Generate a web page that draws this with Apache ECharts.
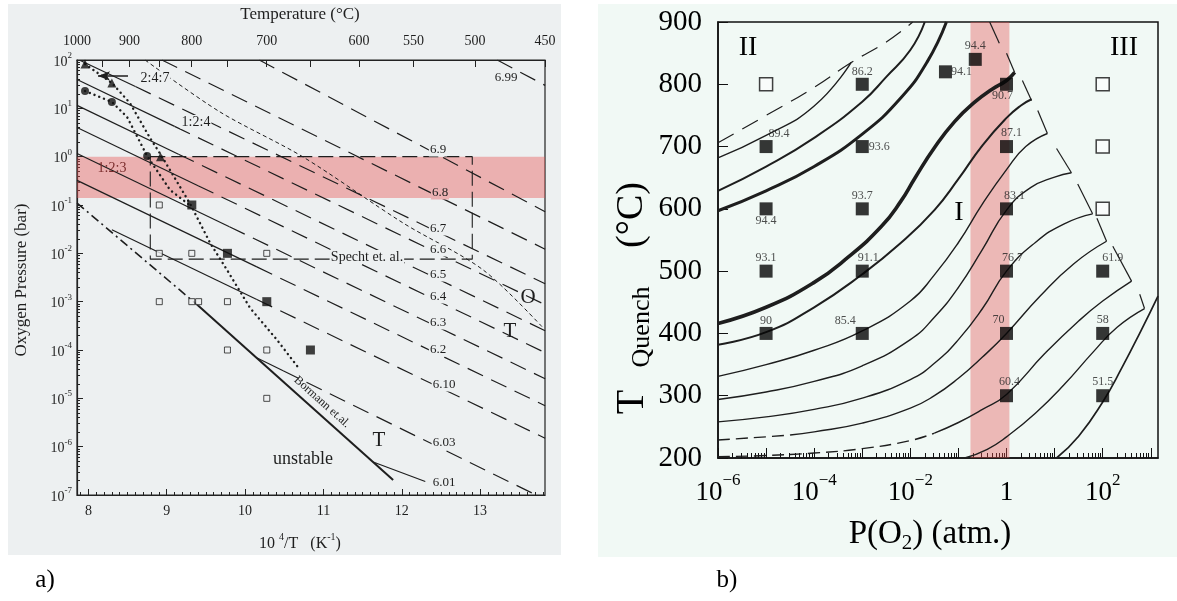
<!DOCTYPE html>
<html><head><meta charset="utf-8">
<script src="https://cdn.jsdelivr.net/npm/echarts@6/dist/echarts.min.js"></script>
<style>html,body{margin:0;padding:0;background:#fff}#c{width:1177px;height:601px}</style>
</head><body><div id="c"></div>
<script>
// ================= DATA : panel a) =================
// x = 10^4/T (K^-1), y = log10 P(O2) (bar)
const topTempLabels = [1000, 900, 800, 700, 600, 550, 500, 450];
const topTempTicks  = [1000, 950, 900, 850, 800, 750, 700, 650, 600, 550, 500, 450];
const invTLabels    = [8, 9, 10, 11, 12, 13];
const pExpLabels    = [-7, -6, -5, -4, -3, -2, -1, 0, 1, 2];
const bandLeft      = [Math.log10(0.14), 0];           // pink band, log10 bar

// oxygen-content isopleths 7-delta : solid parts / dashed parts
const isoSolid = [
  ['6.7',  [[7.897, 1.99], [8.6, 1.452]]],
  ['6.6',  [[7.855, 1.598], [9.1, 0.627]]],
  ['6.5',  [[7.855, 1.061], [9.15, 0.051]]],
  ['6.4',  [[7.855, 0.605], [9.4, -0.6]]],
  ['6.3',  [[7.855, 0.067], [9.8, -1.45]]],
  ['6.2',  [[7.855, -0.491], [10.15, -2.281]]],
  ['6.10', [[8.3, -1.512], [10.15, -2.955]]],
  ['6.03', [[10.154, -4.166], [10.486, -4.43]]],
  ['6.01', [[11.635, -6.318], [12.3, -6.72]]]
];
const isoDashed = [
  ['6.99', [[13.219, 2.0], [13.83, 1.475]]],
  ['6.9',  [[10.181, 2.0], [13.83, -1.138]]],
  ['6.8',  [[8.938, 2.0], [13.83, -1.914]]],
  ['6.7',  [[8.6, 1.452], [13.83, -2.628]]],
  ['6.6',  [[9.1, 0.627], [13.83, -3.063]]],
  ['6.5',  [[9.15, 0.051], [13.83, -3.6]]],
  ['6.4',  [[9.4, -0.6], [13.83, -4.056]]],
  ['6.3',  [[9.8, -1.45], [13.83, -4.594]]],
  ['6.2',  [[10.15, -2.281], [13.83, -5.152]]],
  ['6.10', [[10.15, -2.955], [13.83, -5.826]]],
  ['6.03', [[10.486, -4.43], [13.714, -7.0]]]
];
const bormannDashDot = [[7.855, -0.959], [9.40, -3.08]];
const bormannSolid   = [[9.40, -3.08], [11.89, -6.69]];
const otBoundary     = [[8.723, 2.0], [9.681, 0.924], [10.741, -0.007], [12.018, -1.373], [13.04, -2.345], [13.806, -3.545]];
const spechtBox      = [[8.79, 0], [12.9, 0], [12.9, -2.12], [8.79, -2.12], [8.79, 0]];
const dotTriangles   = [[7.957, 1.917], [8.30, 1.524], [8.53, 1.11], [8.787, 0.386], [8.94, 0.0], [9.30, -0.98], [9.554, -1.786], [9.77, -2.345], [10.064, -3.131], [10.409, -3.793], [10.703, -4.414]];
const dotCircles     = [[7.957, 1.359], [8.30, 1.131], [8.494, 0.82], [8.75, 0.014], [9.043, -0.69], [9.275, -0.98]];
const triPts         = [[7.957, 1.917], [8.30, 1.524], [8.92, 0.0]];
const circPts        = [[7.957, 1.359], [8.30, 1.131], [8.75, 0.014]];
const filledLeft     = [[9.320, -1], [9.775, -2], [10.277, -3], [10.834, -4]];
const openLeft       = [[8.905, -1], [8.905, -2], [9.320, -2], [10.277, -2], [8.905, -3], [9.320, -3], [9.407, -3], [9.775, -3], [9.775, -4], [10.277, -4], [10.277, -5]];
const arrow247       = [[8.123, 1.669], [8.506, 1.669]];

// ================= DATA : panel b) =================
// x = log10 P(O2) (atm), y = T quench (°C)
const pO2Labels = [-6, -4, -2, 0, 2];
const pO2Ticks  = [-6, -5, -4, -3, -2, -1, 0, 1, 2, 3];
const bandRight = [-0.75, 0.06];
const curveIIdash  = [[-6, 706], [-5, 750], [-4, 795], [-3.23, 835], [-2.5, 868], [-1.95, 900]];
const curveIIthin  = [[-6, 682], [-5, 718], [-4, 765], [-3.23, 835]];
const curveIImid   = [[-6, 629], [-5, 668], [-4, 714], [-3, 772], [-2.5, 812], [-2, 855], [-1.7, 900]];
const curveIIthick = [[-6, 597], [-5, 629], [-4, 668], [-3, 720], [-2.2, 778], [-1.65, 836], [-1.25, 900]];
const curveS = [[-6, 416], [-5, 442], [-4, 482], [-3.3, 522], [-2.6, 572], [-2.2, 612], [-1.9, 650], [-1.5, 698], [-1.08, 740], [-0.65, 772], [-0.3, 792], [0, 806], [0.17, 819]];
const curveA = [[-6, 382], [-5, 402], [-4, 442], [-3, 495], [-2.2, 545], [-1.5, 598], [-1, 648], [-0.5, 702], [0, 746], [0.3, 766], [0.52, 776]];
const curveB = [[-6, 331], [-5, 350], [-4, 373], [-3, 404], [-2, 452], [-1.5, 494], [-1, 546], [-0.5, 608], [0, 663], [0.4, 700], [0.85, 721]];
const curveC = [[-6, 294], [-5, 306], [-4, 323], [-3, 348], [-2, 390], [-1.5, 426], [-1, 474], [-0.5, 535], [0, 598], [0.5, 634], [1, 651], [1.35, 658]];
const curveD = [[-6, 258], [-5, 266], [-4, 278], [-3, 296], [-2, 326], [-1.5, 352], [-1, 390], [-0.5, 440], [0, 500], [0.6, 546], [1.2, 576], [1.79, 592]];
const curveEdash = [[-6, 229], [-5, 234], [-4.5, 237]];
const curveE = [[-4.5, 237], [-4, 242], [-3, 256], [-2, 280], [-1.5, 300], [-1, 328], [-0.5, 362], [0, 400], [0.7, 460], [1.4, 512], [2.08, 548]];
const curveFdash = [[-6, 202], [-5, 204], [-4, 208], [-3, 215], [-2, 228], [-1.5, 240]];
const curveF = [[-1.5, 240], [-1, 257], [-0.5, 278], [0, 302], [0.8, 368], [1.5, 420], [2, 452], [2.6, 484]];
const curveG = [[-0.87, 200], [-0.4, 214], [0, 234], [0.6, 272], [1.2, 318], [1.8, 370], [2.3, 410], [2.87, 440]];
const curveH = [[1.04, 200], [1.5, 235], [2, 290], [2.4, 345], [2.8, 405], [3.15, 460]];
const hookSegs = [
  [[-0.35, 900], [-0.15, 866]], [[0.0, 850], [0.17, 819]], [[0.33, 806], [0.52, 774]],
  [[0.65, 758], [0.85, 721]], [[1.04, 697], [1.35, 658]], [[1.48, 640], [1.79, 592]],
  [[1.88, 585], [2.08, 548]], [[2.21, 540], [2.6, 484]], [[2.77, 463], [2.87, 440]]
];
const filledRight = [
  [-5, 700, '89.4'], [-5, 600, '94.4'], [-5, 500, '93.1'], [-5, 400, '90'],
  [-3, 800, '86.2'], [-3, 700, '93.6'], [-3, 600, '93.7'], [-3, 500, '91.1'], [-3, 400, '85.4'],
  [-1.27, 820, '94.1'], [-0.65, 840, '94.4'],
  [0, 800, '90.7'], [0, 700, '87.1'], [0, 600, '83.1'], [0, 500, '76.7'], [0, 400, '70'], [0, 300, '60.4'],
  [2, 500, '61.9'], [2, 400, '58'], [2, 300, '51.5']
];
const openRight = [[-5, 800], [2, 800], [2, 700], [2, 600]];

// ================= STYLE / LAYOUT =================
const SERIF = '"Liberation Serif","DejaVu Serif",serif';
const BG_A = '#edf0f1', BG_B = '#f1f9f5', INK = '#1e1e1e';
const labelPlace = [
  ['top', [13, 2]], ['bottom', [0, -3]], ['top', [0, 1]], ['top', [0, 2]],
  ['top', [0, 2]], ['right', [-2, 0]], ['top', [0, 1]], ['top', [6, 1]], ['top', [-17, 2]],
  ['right', [-3, 0]], ['top', [0, 1]],
  ['bottom', [-4, -3]], ['top', [5, 1]], ['top', [8, 1]], ['top', [6, 1]], ['top', [-8, 1]], ['top', [3, 1]],
  ['top', [10, 1]], ['top', [0, 1]], ['top', [0, 1]]
];
const TK = t => 1e4 / (t + 273.15);
const XA_MIN = TK(1000) - 1e-6, XA_MAX = TK(450) + 1e-6;
const minorLogs = (a, b) => { const r = []; for (let e = a; e < b; e++) for (let k = 2; k <= 9; k++) r.push(e + Math.log10(k)); return r; };
const xMinorA = []; for (let i = 79; i <= 138; i++) xMinorA.push(i / 10);

function ln(data, ax, w, type, extra) {
  return Object.assign({
    type: 'line', data, xAxisIndex: ax[0], yAxisIndex: ax[1], symbol: 'none', silent: true,
    lineStyle: { color: INK, width: w, type: type || 'solid' }, itemStyle: { color: INK }, z: 3
  }, extra || {});
}
const A = [0, 0], B = [3, 2];
const series = [];

// ---- panel a series ----
series.push({ type: 'line', data: [], xAxisIndex: 0, yAxisIndex: 0, z: 1, silent: true,
  markArea: { silent: true, itemStyle: { color: 'rgba(232,80,80,0.4)' }, data: [[{ yAxis: bandLeft[1] }, { yAxis: bandLeft[0] }]] } });
isoSolid.forEach(s => series.push(ln(s[1], A, 1.2)));
isoDashed.forEach(s => series.push(ln(s[1], A, 1.2, [17, 9])));
series.push(ln(bormannDashDot, A, 1.6, [9, 4, 2, 4]));
series.push(ln(bormannSolid, A, 2.0));
series.push(ln(otBoundary, A, 1.0, [4, 3], { smooth: 0.3 }));
series.push(ln(spechtBox, A, 1.1, [15, 6]));
series.push(ln(dotTriangles, A, 2.4, [0.1, 5], { lineStyle: { color: INK, width: 2.4, type: [0.1, 5], cap: 'round' } }));
series.push(ln(dotCircles, A, 2.4, [0.1, 5], { lineStyle: { color: INK, width: 2.4, type: [0.1, 5], cap: 'round' } }));
series.push(ln([{ value: arrow247[0], symbol: 'arrow', symbolSize: [7, 12], symbolRotate: 90 }, { value: arrow247[1], symbol: 'none' }], A, 1.3, 'solid'));
series.push({ type: 'scatter', data: triPts, xAxisIndex: 0, yAxisIndex: 0, symbol: 'triangle', symbolSize: 9, itemStyle: { color: '#111' }, z: 5, silent: true });
series.push({ type: 'scatter', data: circPts, xAxisIndex: 0, yAxisIndex: 0, symbol: 'circle', symbolSize: 8, itemStyle: { color: '#111' }, z: 5, silent: true });
series.push({ type: 'scatter', data: filledLeft, xAxisIndex: 0, yAxisIndex: 0, symbol: 'rect', symbolSize: 9, itemStyle: { color: '#111' }, z: 5, silent: true });
series.push({ type: 'scatter', data: openLeft, xAxisIndex: 0, yAxisIndex: 0, symbol: 'rect', symbolSize: 6, itemStyle: { color: BG_A, borderColor: '#222', borderWidth: 1 }, z: 5, silent: true });

// ---- panel b series ----
const sm = { smooth: 0.5 };
series.push(ln(curveIIdash, B, 1.2, [18, 10], sm));
series.push(ln(curveIIthin, B, 1.4, 'solid', sm));
series.push(ln(curveIImid, B, 2.0, 'solid', sm));
series.push(ln(curveIIthick, B, 3.0, 'solid', sm));
series.push(ln(curveS, B, 3.6, 'solid', sm));
series.push(ln(curveA, B, 2.0, 'solid', sm));
[curveB, curveC, curveD, curveE, curveF, curveG].forEach(c => series.push(ln(c, B, 1.4, 'solid', sm)));
series.push(ln(curveH, B, 1.7, 'solid', sm));
series.push(ln(curveEdash, B, 1.4, [12, 6], sm));
series.push(ln(curveFdash, B, 1.4, [12, 6], sm));
hookSegs.forEach(h => series.push(ln(h, B, 1.2)));
series.push({ type: 'scatter', xAxisIndex: 3, yAxisIndex: 2, symbol: 'rect', symbolSize: 13, z: 5, silent: true,
  itemStyle: { color: '#050505' },
  data: filledRight.map((p, i) => ({ value: [p[0], p[1]], name: p[2],
    label: { show: true, formatter: p[2], position: labelPlace[i][0], offset: labelPlace[i][1], distance: 2,
      fontSize: 12, fontFamily: SERIF, color: '#222' } })) });
series.push({ type: 'scatter', data: openRight, xAxisIndex: 3, yAxisIndex: 2, symbol: 'rect', symbolSize: 13, z: 5, silent: true,
  itemStyle: { color: '#fbfdfc', borderColor: '#111', borderWidth: 1.5 } });
series.push({ type: 'line', data: [], xAxisIndex: 3, yAxisIndex: 2, z: 20, silent: true,
  markArea: { silent: true, itemStyle: { color: 'rgba(230,80,80,0.38)' }, data: [[{ xAxis: bandRight[0] }, { xAxis: bandRight[1] }]] } });

// ---- axes ----
const lab = (sz, extra) => Object.assign({ fontFamily: SERIF, fontSize: sz, color: '#000' }, extra || {});
const xAxis = [
  { gridIndex: 0, type: 'value', min: XA_MIN, max: XA_MAX, position: 'bottom',
    axisLine: { onZero: false, lineStyle: { color: '#222', width: 1.2 } }, splitLine: { show: false },
    axisTick: { inside: true, length: 6, customValues: invTLabels, lineStyle: { color: '#222' } },
    axisLabel: lab(14, { customValues: invTLabels, margin: 9, color: INK }) },
  { gridIndex: 0, type: 'value', min: XA_MIN, max: XA_MAX, position: 'bottom', axisLine: { show: false, onZero: false }, splitLine: { show: false },
    axisTick: { inside: true, length: 3, customValues: xMinorA, lineStyle: { color: '#222' } }, axisLabel: { show: false } },
  { gridIndex: 0, type: 'value', min: XA_MIN, max: XA_MAX, position: 'top',
    axisLine: { onZero: false, lineStyle: { color: '#222', width: 1.2 } }, splitLine: { show: false },
    axisTick: { inside: true, length: 7, customValues: topTempTicks.map(TK), lineStyle: { color: '#222' } },
    axisLabel: lab(14, { customValues: topTempLabels.map(TK), margin: 12, color: INK, showMinLabel: true, showMaxLabel: true,
      formatter: v => String(Math.round(1e4 / v - 273.15)) }) },
  { gridIndex: 1, type: 'value', min: -6, max: 3.15, position: 'bottom',
    axisLine: { onZero: false, lineStyle: { color: '#111', width: 1.5 } }, splitLine: { show: false },
    axisTick: { inside: true, length: 10, customValues: pO2Ticks, lineStyle: { color: '#111' } },
    axisLabel: lab(27, { customValues: pO2Labels, margin: 14,
      formatter: v => { const e = Math.round(v); return e === 0 ? '{b|1}' : '{b|10}{s|' + (e < 0 ? '\u2212' + (-e) : e) + '}'; },
      rich: { b: { fontFamily: SERIF, fontSize: 27, lineHeight: 34, verticalAlign: 'bottom' }, s: { fontFamily: SERIF, fontSize: 17, lineHeight: 14, verticalAlign: 'top' } } }) },
  { gridIndex: 1, type: 'value', min: -6, max: 3.15, position: 'bottom', axisLine: { show: false, onZero: false }, splitLine: { show: false },
    axisTick: { inside: true, length: 5, customValues: minorLogs(-6, 4).filter(v => v <= 3.15), lineStyle: { color: '#111' } }, axisLabel: { show: false } }
];
const yAxis = [
  { gridIndex: 0, type: 'value', min: -7, max: 2, position: 'left',
    axisLine: { onZero: false, lineStyle: { color: '#222', width: 1.2 } }, splitLine: { show: false },
    axisTick: { inside: true, length: 6, customValues: pExpLabels, lineStyle: { color: '#222' } },
    axisLabel: lab(14, { customValues: pExpLabels, margin: 5, color: INK,
      formatter: v => '{b|10}{s|' + Math.round(v) + '}',
      rich: { b: { fontFamily: SERIF, fontSize: 14, lineHeight: 18, verticalAlign: 'bottom', color: INK }, s: { fontFamily: SERIF, fontSize: 9, lineHeight: 8, verticalAlign: 'top', color: INK } } }) },
  { gridIndex: 0, type: 'value', min: -7, max: 2, position: 'left', axisLine: { show: false, onZero: false }, splitLine: { show: false },
    axisTick: { inside: true, length: 3, customValues: minorLogs(-7, 2), lineStyle: { color: '#222' } }, axisLabel: { show: false } },
  { gridIndex: 1, type: 'value', min: 200, max: 900, interval: 100, position: 'left',
    axisLine: { onZero: false, lineStyle: { color: '#111', width: 1.5 } }, splitLine: { show: false },
    axisTick: { inside: true, length: 10, lineStyle: { color: '#111' } },
    axisLabel: lab(29, { margin: 16 }) }
];

// ---- annotation text ----
function tx(text, x, y, size, opt) {
  opt = opt || {};
  return { type: 'text', x, y, rotation: opt.rot || 0, z: 100, silent: true,
    style: Object.assign({ text, fontFamily: SERIF, fontSize: size, fill: opt.color || INK, align: 'center', verticalAlign: 'middle' }, opt.style || {}) };
}
const lblBg = (c) => ({ backgroundColor: c || BG_A, padding: [0, 1] });
const PINK_ON_A = '#ebb1b2';
const graphic = [
  { type: 'rect', shape: { x: 8, y: 4, width: 553, height: 551 }, style: { fill: BG_A }, z: -100, silent: true },
  { type: 'rect', shape: { x: 598, y: 4, width: 579, height: 553 }, style: { fill: BG_B }, z: -100, silent: true },
  tx('Temperature (°C)', 300, 15, 17),
  tx('Oxygen Pressure (bar)', 22, 280, 17, { rot: Math.PI / 2 }),
  tx('{b|10 }{s|4}{b|/T   (K}{s|-1}{b|)}', 300, 542, 16, { style: { rich: {
    b: { fontFamily: SERIF, fontSize: 16, lineHeight: 20, verticalAlign: 'bottom', fill: INK },
    s: { fontFamily: SERIF, fontSize: 10, lineHeight: 8, verticalAlign: 'top', fill: INK } } } }),
  tx('2:4:7', 155, 78, 14, { style: lblBg() }),
  tx('1:2:4', 196, 122, 14, { style: lblBg() }),
  tx('1:2:3', 112, 168, 14, { color: '#7a2c2c' }),
  tx('6.99', 506, 78, 13),
  tx('6.9', 438, 150, 13, { style: lblBg() }),
  tx('6.8', 440, 193, 13, { style: lblBg(PINK_ON_A) }),
  tx('6.7', 438, 229, 13, { style: lblBg() }),
  tx('6.6', 438, 250, 13, { style: lblBg() }),
  tx('6.5', 438, 275, 13, { style: lblBg() }),
  tx('6.4', 438, 297, 13, { style: lblBg() }),
  tx('6.3', 438, 323, 13, { style: lblBg() }),
  tx('6.2', 438, 350, 13, { style: lblBg() }),
  tx('6.10', 444, 385, 13, { style: lblBg() }),
  tx('6.03', 444, 443, 13, { style: lblBg() }),
  tx('6.01', 444, 483, 13, { style: lblBg() }),
  tx('Specht et. al.', 367, 257, 14, { style: lblBg() }),
  tx('O', 528, 297, 21),
  tx('T', 510, 331, 21),
  tx('T', 379, 440, 21),
  tx('unstable', 303, 459, 18),
  tx('Bormann et.al.', 322, 402, 12, { rot: -0.73 }),
  tx('a)', 45, 580, 25, { color: '#000' }),
  tx('b)', 727, 580, 25, { color: '#000' }),
  tx('II', 748, 48, 28, { color: '#000' }),
  tx('III', 1124, 48, 28, { color: '#000' }),
  tx('I', 959, 213, 28, { color: '#000' }),
  tx('T', 632, 402, 40, { rot: Math.PI / 2, color: '#000' }),
  tx('Quench', 642, 327, 26, { rot: Math.PI / 2, color: '#000' }),
  tx('(°C)', 632, 215, 38, { rot: Math.PI / 2, color: '#000' }),
  tx('{b|P(O}{s|2}{b|) (atm.)}', 930, 536, 33, { color: '#000', style: { rich: {
    b: { fontFamily: SERIF, fontSize: 33, lineHeight: 36, verticalAlign: 'top', fill: '#000' },
    s: { fontFamily: SERIF, fontSize: 21, lineHeight: 12, verticalAlign: 'bottom', fill: '#000' } } } })
];

const chart = echarts.init(document.getElementById('c'));
chart.setOption({
  backgroundColor: '#ffffff', animation: false, textStyle: { fontFamily: SERIF },
  grid: [
    { left: 77, top: 60, width: 468, height: 435, show: true, borderColor: '#222', borderWidth: 1.2, backgroundColor: 'transparent' },
    { left: 718, top: 22, width: 440, height: 436, show: true, borderColor: '#111', borderWidth: 1.5, backgroundColor: 'transparent' }
  ],
  xAxis, yAxis, series, graphic: { elements: graphic }
});
</script></body></html>
